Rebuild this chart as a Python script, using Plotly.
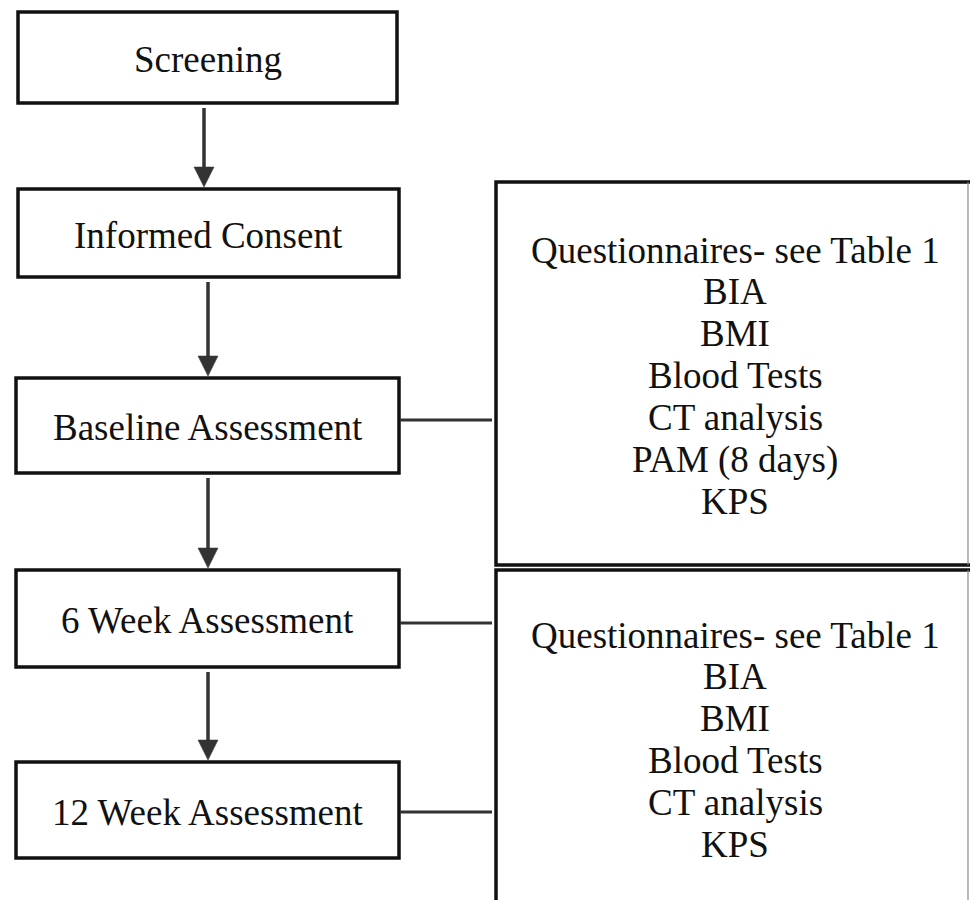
import plotly.graph_objects as go

# ---- content ----
steps = ["Screening", "Informed Consent", "Baseline Assessment",
         "6 Week Assessment", "12 Week Assessment"]
baseline_items = ["Questionnaires- see Table 1", "BIA", "BMI", "Blood Tests",
                  "CT analysis", "PAM (8 days)", "KPS"]
followup_items = ["Questionnaires- see Table 1", "BIA", "BMI", "Blood Tests",
                  "CT analysis", "KPS"]

# ---- layout geometry (pixels, y downwards) ----
W, H = 970, 900
step_boxes = [(18, 12, 397, 103), (18, 189, 399, 277), (16, 378, 399, 473),
              (16, 570, 399, 667), (16, 762, 399, 858)]
arrow_x = [204, 208, 208, 208]
detail_boxes = [(496, 182, 968, 565), (496, 570, 968, 910)]
detail_line_start = [250, 635]
detail_spacing = 41.9
connect_from = [2, 3, 4]
connect_y = [420, 623, 812]

FONT = "Liberation Serif, Times New Roman, serif"
FS = 37
BLACK = "#111111"
DARK = "#333333"

shapes = []
annotations = []

for (x0, y0, x1, y1), label in zip(step_boxes, steps):
    shapes.append(dict(type="rect", xref="x", yref="y", x0=x0, y0=y0, x1=x1, y1=y1,
                       line=dict(color=BLACK, width=3.5), fillcolor="white"))
    annotations.append(dict(x=(x0 + x1) / 2, y=(y0 + y1) / 2 + 2, xref="x", yref="y",
                            text=label, showarrow=False,
                            font=dict(family=FONT, size=FS, color=BLACK)))

# arrows between steps
for i, ax in enumerate(arrow_x):
    top = step_boxes[i][3] + 5
    tip = step_boxes[i + 1][1] - 2
    head = 20
    shapes.append(dict(type="line", xref="x", yref="y", x0=ax, x1=ax, y0=top, y1=tip - head + 2,
                       line=dict(color=DARK, width=3.5)))
    shapes.append(dict(type="path", xref="x", yref="y",
                       path=f"M {ax-10},{tip-head} L {ax+10},{tip-head} L {ax},{tip} Z",
                       fillcolor=DARK, line=dict(color=DARK, width=0.5)))

# detail boxes
for bi, (x0, y0, x1, y1) in enumerate(detail_boxes):
    shapes.append(dict(type="path", xref="x", yref="y",
                       path=f"M {x1+3},{y0} L {x0},{y0} L {x0},{y1}" + (f" L {x1+3},{y1}" if bi == 0 else ""),
                       line=dict(color=BLACK, width=3.5)))
    shapes.append(dict(type="line", xref="x", yref="y", x0=x1, x1=x1, y0=y0, y1=y1,
                       line=dict(color="#888888", width=1.2)))

for items, y_start, (x0, y0, x1, y1) in zip([baseline_items, followup_items],
                                            detail_line_start, detail_boxes):
    for k, txt in enumerate(items):
        annotations.append(dict(x=(x0 + x1) / 2 + 3, y=y_start + k * detail_spacing,
                                xref="x", yref="y", text=txt, showarrow=False,
                                font=dict(family=FONT, size=FS, color=BLACK)))

# connectors
for si, cy in zip(connect_from, connect_y):
    shapes.append(dict(type="line", xref="x", yref="y", x0=step_boxes[si][2] + 1, x1=492,
                       y0=cy, y1=cy, line=dict(color=DARK, width=3)))

fig = go.Figure()
fig.update_layout(
    width=W, height=H, margin=dict(l=0, r=0, t=0, b=0),
    paper_bgcolor="white", plot_bgcolor="white",
    xaxis=dict(range=[0, W], visible=False, fixedrange=True),
    yaxis=dict(range=[H, 0], visible=False, fixedrange=True),
    shapes=shapes, annotations=annotations, showlegend=False,
)
fig.write_html("out.html", config={"displayModeBar": False},
               post_script="document.body.style.margin='0';document.body.style.overflow='hidden';")
